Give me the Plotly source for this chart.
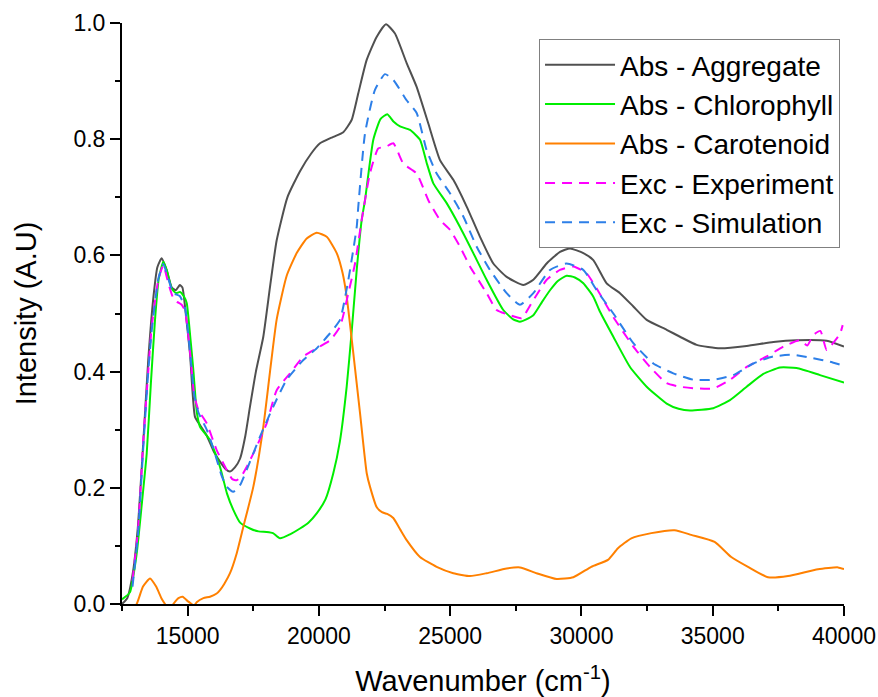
import plotly.graph_objects as go

# ---------------- data ----------------
agg_x = [12500, 12700, 12900, 13100, 13300, 13500, 13700, 13850, 14012, 14200, 14393, 14550, 14700, 14800,
         14900, 15090, 15280, 15471, 15726, 16000, 16233, 16450, 16614, 16800, 16995, 17200, 17376, 17600,
         17882, 18150, 18392, 18800, 19280, 19700, 20042, 20548, 20929, 21246, 21500, 21817, 22198, 22554,
         22897, 23342, 23723, 24167, 24612, 25120, 25628, 26136, 26643, 27151, 27786, 28167, 28675, 29183,
         29564, 30072, 30452, 30960, 31468, 31976, 32484, 33245, 33753, 34388, 35277, 36293, 37309, 38197,
         39340, 40000]
agg_y = [0.0, 0.01, 0.05, 0.13, 0.27, 0.42, 0.53, 0.58, 0.595, 0.575, 0.545, 0.54, 0.549, 0.545,
         0.512, 0.431, 0.322, 0.308, 0.29, 0.262, 0.245, 0.232, 0.228, 0.235, 0.25, 0.29, 0.34, 0.40,
         0.46, 0.55, 0.626, 0.70, 0.745, 0.775, 0.793, 0.804, 0.812, 0.833, 0.879, 0.936, 0.976, 0.998,
         0.982, 0.931, 0.89, 0.827, 0.764, 0.73, 0.684, 0.632, 0.586, 0.563, 0.549, 0.558, 0.586, 0.606,
         0.612, 0.604, 0.592, 0.552, 0.535, 0.512, 0.489, 0.472, 0.46, 0.446, 0.44, 0.444, 0.451, 0.454,
         0.453, 0.443]

chl_x = [12500, 12800, 13060, 13250, 13441, 13600, 13757, 13900, 14074, 14200, 14393, 14550, 14709, 14850,
         14964, 15100, 15216, 15350, 15471, 15852, 16233, 16500, 16740, 17000, 17376, 17700, 18011, 18250,
         18519, 18900, 19280, 19600, 19916, 20250, 20548, 20800, 21058, 21250, 21440, 21630, 21756, 22072,
         22350, 22606, 22850, 23089, 23470, 23851, 24100, 24358, 24866, 25374, 25881, 26389, 27023, 27400,
         27658, 27900, 28167, 28500, 28802, 29100, 29437, 29750, 30072, 30452, 30707, 31214, 31849, 32484,
         33245, 33700, 34134, 35023, 35658, 36293, 36928, 37563, 38197, 39086, 40000]
chl_y = [0.008, 0.02, 0.087, 0.17, 0.259, 0.38, 0.489, 0.56, 0.589, 0.575, 0.543, 0.535, 0.537, 0.53,
         0.518, 0.46, 0.403, 0.33, 0.305, 0.282, 0.236, 0.19, 0.162, 0.14, 0.13, 0.125, 0.124, 0.122,
         0.113, 0.12, 0.13, 0.14, 0.156, 0.18, 0.225, 0.28, 0.374, 0.47, 0.575, 0.661, 0.695, 0.799,
         0.835, 0.843, 0.83, 0.822, 0.816, 0.799, 0.76, 0.724, 0.69, 0.649, 0.604, 0.558, 0.506, 0.49,
         0.486, 0.49, 0.497, 0.52, 0.54, 0.556, 0.565, 0.562, 0.552, 0.529, 0.503, 0.46, 0.408, 0.374,
         0.345, 0.336, 0.333, 0.337, 0.351, 0.374, 0.396, 0.407, 0.406, 0.394, 0.381]

car_x = [12600, 13060, 13300, 13567, 13800, 14000, 14138, 14300, 14455, 14650, 14811, 15000, 15153, 15250,
         15344, 15600, 15852, 16106, 16233, 16400, 16614, 16868, 17122, 17503, 17882, 18138, 18392, 18773,
         19154, 19535, 19916, 20297, 20678, 20900, 21058, 21312, 21567, 21821, 21945, 22198, 22400, 22600,
         22833, 23100, 23342, 23850, 24485, 25119, 25755, 26389, 27151, 27658, 28293, 29055, 29690, 30374,
         31010, 31391, 31898, 32660, 33549, 34183, 35071, 35705, 36344, 37106, 37868, 39011, 39773, 40000]
car_y = [-0.03, 0.0, 0.03, 0.044, 0.03, 0.01, 0.0, -0.01, 0.0, 0.01, 0.0126, 0.005, 0.0, -0.003,
         0.003, 0.01, 0.0126, 0.018, 0.024, 0.035, 0.053, 0.087, 0.133, 0.202, 0.305, 0.40, 0.49, 0.565,
         0.604, 0.629, 0.639, 0.632, 0.604, 0.57, 0.529, 0.431, 0.328, 0.225, 0.202, 0.167, 0.158, 0.155,
         0.148, 0.128, 0.11, 0.081, 0.064, 0.053, 0.048, 0.053, 0.061, 0.063, 0.053, 0.043, 0.046, 0.064,
         0.076, 0.096, 0.113, 0.122, 0.127, 0.119, 0.107, 0.081, 0.064, 0.046, 0.048, 0.06, 0.063, 0.06]

exp_x = [12900, 13110, 13311, 13500, 13631, 13884, 14074, 14264, 14455, 14600, 14772, 14900, 15100, 15250,
         15408, 15726, 16106, 16487, 16700, 16868, 17050, 17249, 17630, 18011, 18392, 18900, 19407, 19916,
         20423, 20803, 21121, 21376, 21630, 21943, 22260, 22554, 22833, 23214, 23723, 24167, 24612, 24993,
         25374, 25755, 26389, 26770, 27278, 27722, 28167, 28675, 29183, 29690, 30198, 30579, 31214, 31976,
         32611, 33245, 33753, 34388, 35023, 35658, 36293, 37055, 37690, 38325, 38600, 38832, 39100, 39340,
         39600, 39848, 39950]
exp_y = [0.04, 0.127, 0.282, 0.40, 0.477, 0.558, 0.583, 0.552, 0.526, 0.52, 0.515, 0.505, 0.43, 0.36,
         0.334, 0.311, 0.265, 0.231, 0.215, 0.213, 0.22, 0.236, 0.271, 0.311, 0.368, 0.397, 0.426, 0.44,
         0.454, 0.477, 0.535, 0.586, 0.661, 0.741, 0.784, 0.787, 0.793, 0.758, 0.741, 0.695, 0.661, 0.644,
         0.615, 0.581, 0.535, 0.506, 0.497, 0.492, 0.523, 0.558, 0.575, 0.581, 0.569, 0.543, 0.494, 0.443,
         0.408, 0.38, 0.374, 0.371, 0.371, 0.386, 0.408, 0.426, 0.443, 0.454, 0.445, 0.463, 0.47, 0.437,
         0.45, 0.465, 0.48]

sim_x = [12900, 13110, 13311, 13500, 13631, 13884, 14074, 14264, 14455, 14700, 14900, 15100, 15250, 15408,
         15726, 16000, 16300, 16487, 16740, 17000, 17249, 17757, 18264, 18773, 19407, 19916, 20423, 20803,
         21121, 21440, 21500, 21756, 22135, 22516, 22833, 23342, 23723, 24104, 24485, 24993, 25501, 26009,
         26516, 27151, 27658, 28167, 28802, 29437, 30072, 30579, 31214, 31976, 32737, 33499, 34261, 35023,
         35785, 36547, 37309, 38071, 38832, 39467, 40000]
sim_y = [0.03, 0.12, 0.27, 0.40, 0.47, 0.56, 0.585, 0.56, 0.535, 0.53, 0.51, 0.43, 0.36, 0.33,
         0.30, 0.265, 0.22, 0.202, 0.193, 0.205, 0.231, 0.288, 0.34, 0.386, 0.42, 0.44, 0.466, 0.489,
         0.558, 0.649, 0.684, 0.81, 0.885, 0.912, 0.902, 0.867, 0.845, 0.781, 0.741, 0.707, 0.667, 0.615,
         0.575, 0.535, 0.515, 0.535, 0.575, 0.586, 0.575, 0.54, 0.5, 0.449, 0.414, 0.397, 0.386, 0.386,
         0.394, 0.414, 0.426, 0.429, 0.423, 0.417, 0.41]

x_ticks = [15000, 20000, 25000, 30000, 35000, 40000]
y_ticks = [0.0, 0.2, 0.4, 0.6, 0.8, 1.0]

FONT = "Arial, Liberation Sans, sans-serif"
SMOOTH = 0.5

fig = go.Figure()
fig.add_trace(go.Scatter(x=agg_x, y=agg_y, mode="lines", name="Abs - Aggregate",
                         line=dict(color="#505050", width=2, shape="spline", smoothing=SMOOTH)))
fig.add_trace(go.Scatter(x=chl_x, y=chl_y, mode="lines", name="Abs - Chlorophyll",
                         line=dict(color="#00ee00", width=2, shape="spline", smoothing=SMOOTH)))
fig.add_trace(go.Scatter(x=car_x, y=car_y, mode="lines", name="Abs - Carotenoid",
                         line=dict(color="#ff8000", width=2, shape="spline", smoothing=SMOOTH)))
fig.add_trace(go.Scatter(x=exp_x, y=exp_y, mode="lines", name="Exc - Experiment",
                         line=dict(color="#ff00ff", width=2, dash="10px,7px", shape="spline", smoothing=SMOOTH)))
fig.add_trace(go.Scatter(x=sim_x, y=sim_y, mode="lines", name="Exc - Simulation",
                         line=dict(color="#2d7fe8", width=2, dash="10px,7px", shape="spline", smoothing=SMOOTH)))

fig.update_layout(
    width=878, height=697,
    margin=dict(l=122, r=34, t=23, b=93),
    paper_bgcolor="white", plot_bgcolor="white",
    font=dict(family=FONT, color="black", size=23),
    legend=dict(x=0.5776, y=0.9725, xanchor="left", yanchor="top",
                bgcolor="white", bordercolor="#808080", borderwidth=1,
                font=dict(family=FONT, size=28, color="black"),
                itemwidth=70, tracegroupgap=0),
    xaxis=dict(range=[12500, 40000], tickvals=x_ticks, ticktext=[str(v) for v in x_ticks],
               showline=True, linecolor="black", linewidth=2, mirror=False,
               ticks="outside", ticklen=10, tickwidth=2, tickcolor="black",
               minor=dict(dtick=2500, tick0=0, ticks="outside", ticklen=5, tickwidth=2, tickcolor="black"),
               showgrid=False, zeroline=False, automargin=False,
               tickfont=dict(family=FONT, size=23, color="black"),
               title=dict(text="Wavenumber (cm<sup>-1</sup>)", font=dict(family=FONT, size=29, color="black"),
                          standoff=27)),
    yaxis=dict(range=[0, 1.0], tickvals=y_ticks, ticktext=["%.1f" % v for v in y_ticks],
               showline=True, linecolor="black", linewidth=2, mirror=False,
               ticks="outside", ticklen=10, tickwidth=2, tickcolor="black",
               minor=dict(dtick=0.1, tick0=0, ticks="outside", ticklen=5, tickwidth=2, tickcolor="black"),
               showgrid=False, zeroline=False, automargin=False,
               tickfont=dict(family=FONT, size=23, color="black"),
               title=dict(text="Intensity (A.U)", font=dict(family=FONT, size=29, color="black"),
                          standoff=28)),
)

fig.write_html("out.html")
